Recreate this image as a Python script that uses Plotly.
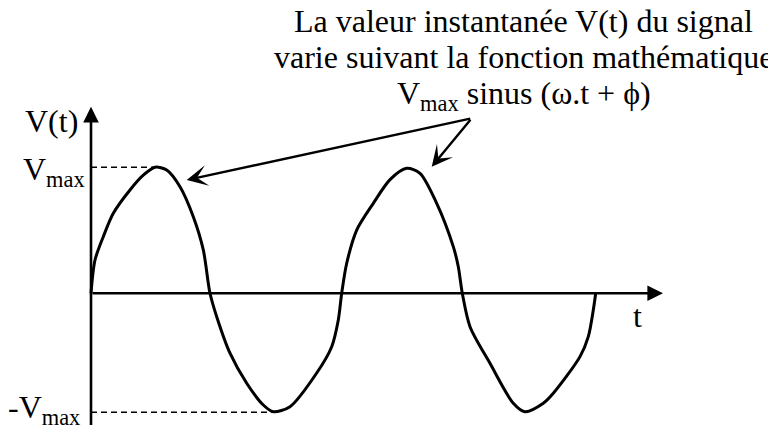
import plotly.graph_objects as go

# points (time in arbitrary units, V in units of Vmax)
t = [0, 0.4, 1.23, 2.23, 3.9, 5.23, 6.4, 7.57, 8.9, 10.23, 11.23, 11.73, 11.9,
     12.57, 13.9, 15.57, 17.23, 18.23, 19.9, 22.57, 24.07, 24.73, 25.07,
     25.57, 26.57, 28.23, 29.9, 31.57, 32.9, 34.57, 36.23, 36.73, 37.13,
     37.9, 39.9, 42.23, 43.4, 45.23, 46.23, 48.9, 49.73, 50.23, 50.47]
v = [0, 0.264, 0.449, 0.635, 0.82, 0.937, 1.0, 0.979, 0.846, 0.608, 0.344, 0.079, 0,
     -0.186, -0.476, -0.714, -0.887, -0.94, -0.9, -0.633, -0.424, -0.212, 0,
     0.238, 0.502, 0.714, 0.902, 0.992, 0.952, 0.714, 0.37, 0.211, 0,
     -0.265, -0.556, -0.873, -0.94, -0.873, -0.794, -0.503, -0.344, -0.133, 0]

vmax_level = 1.0
vmin_level = -0.945

title_lines = ["La valeur instantanée V(t) du signal",
               "varie suivant la fonction mathématique",
               "V<sub>max</sub> sinus (ω.t + ϕ)"]

FONT = "Liberation Serif"

fig = go.Figure()

# dashed reference levels
fig.add_trace(go.Scatter(x=[0, 6.4], y=[vmax_level, vmax_level], mode="lines",
                         line=dict(color="black", width=1.5, dash="6px,4px"),
                         hoverinfo="skip"))
fig.add_trace(go.Scatter(x=[0, 18.23], y=[vmin_level, vmin_level], mode="lines",
                         line=dict(color="black", width=1.5, dash="6px,4px"),
                         hoverinfo="skip"))

# the signal
fig.add_trace(go.Scatter(x=t, y=v, mode="lines",
                         line=dict(color="black", width=3, shape="spline", smoothing=0.8),
                         hoverinfo="skip"))

annotations = []


def arrow(x0, y0, x1, y1, head, width, size):
    annotations.append(dict(x=x1, y=y1, ax=x0, ay=y0, xref="x", yref="y",
                            axref="x", ayref="y", text="", showarrow=True,
                            arrowhead=head, arrowwidth=width, arrowsize=size,
                            arrowcolor="black", standoff=0, startstandoff=0))


# axes with arrowheads
arrow(0, 0, 57.2, 0, 2, 2.6, 1.2)
arrow(0, -1.1, 0, 1.48, 2, 2.6, 1.2)

# pointers from the text to the two peaks
arrow(38.07, 1.389, 9.57, 0.899, 3, 2.4, 1.45)
arrow(38.07, 1.389, 34.07, 1.005, 3, 2.4, 1.45)


def label(x, y, text, xanchor="center"):
    annotations.append(dict(x=x, y=y, xref="x", yref="y", text=text,
                            showarrow=False, xanchor=xanchor, yanchor="middle",
                            font=dict(family=FONT, size=32, color="black")))


label(43.25, 2.161, title_lines[0])
label(43.25, 1.875, title_lines[1])
label(43.25, 1.573, title_lines[2])
label(-4.0, 1.367, "V(t)")
label(-0.37, 0.97, "V<sub>max</sub>", xanchor="right")
label(-0.93, -0.92, "-V<sub>max</sub>", xanchor="right")
label(54.6, -0.18, "t")

# the page adds an 8px body margin, so the ranges are shifted to compensate
fig.update_layout(
    width=776, height=425,
    margin=dict(l=0, r=0, t=0, b=0),
    paper_bgcolor="white", plot_bgcolor="white",
    showlegend=False,
    xaxis=dict(range=[-8.3, 69.3], visible=False, fixedrange=True),
    yaxis=dict(range=[-1.109, 2.264], visible=False, fixedrange=True),
    annotations=annotations,
)

fig.write_html("out.html")
